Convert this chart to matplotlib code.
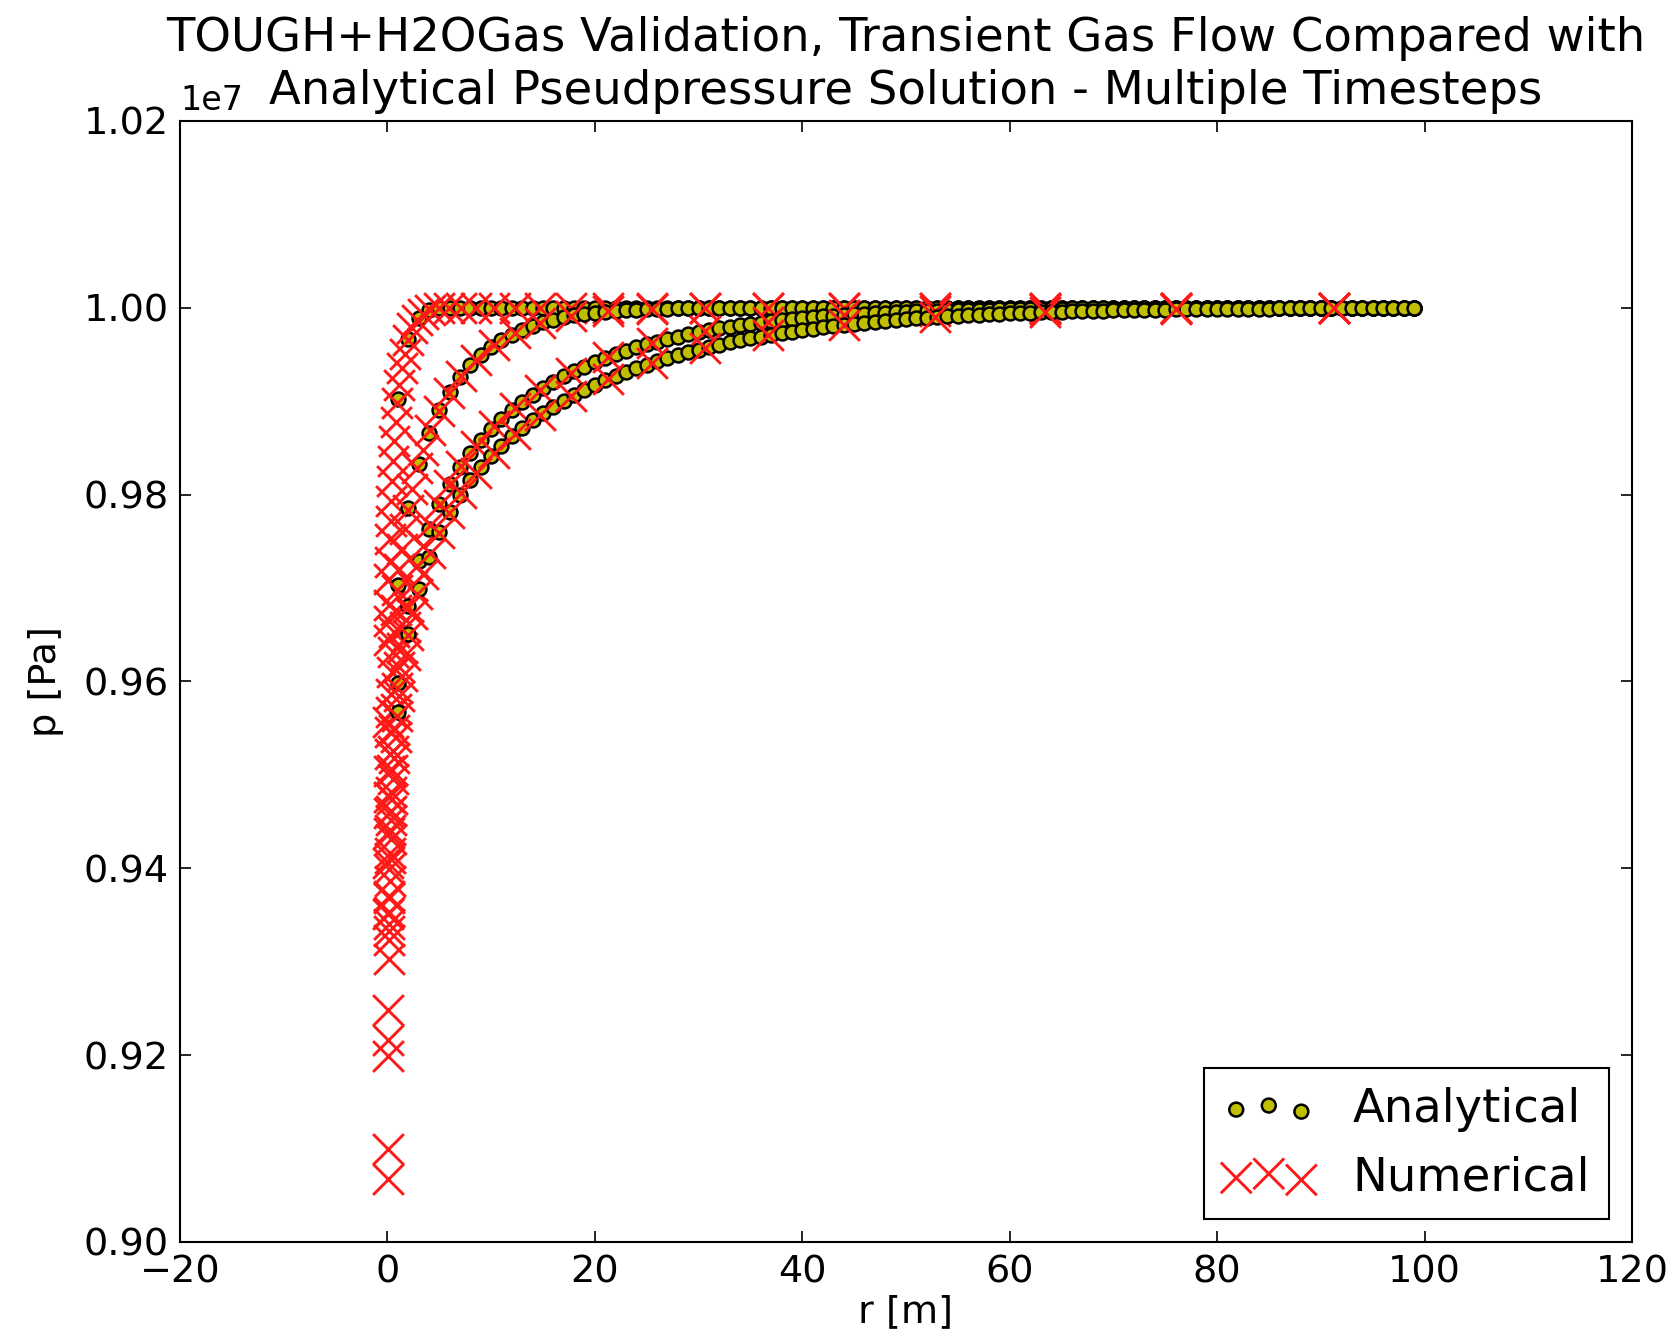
import matplotlib
matplotlib.use("Agg")
import matplotlib.pyplot as plt

plt.rcParams['font.family'] = ['DejaVu Sans']

P_SCALE = 1e7  # values below are in units of 1e7 Pa

# Analytical solution: evaluated at r = 1 ... 99 m
r_analytical = list(range(1, 100))

p_analytical_t1 = [
    0.99026, 0.99664, 0.99892, 0.99971, 0.99993, 0.99999, 1.0, 1.0, 1.0, 1.0,
    1.0, 1.0, 1.0, 1.0, 1.0, 1.0, 1.0, 1.0, 1.0, 1.0,
    1.0, 1.0, 1.0, 1.0, 1.0, 1.0, 1.0, 1.0, 1.0, 1.0,
    1.0, 1.0, 1.0, 1.0, 1.0, 1.0, 1.0, 1.0, 1.0, 1.0,
    1.0, 1.0, 1.0, 1.0, 1.0, 1.0, 1.0, 1.0, 1.0, 1.0,
    1.0, 1.0, 1.0, 1.0, 1.0, 1.0, 1.0, 1.0, 1.0, 1.0,
    1.0, 1.0, 1.0, 1.0, 1.0, 1.0, 1.0, 1.0, 1.0, 1.0,
    1.0, 1.0, 1.0, 1.0, 1.0, 1.0, 1.0, 1.0, 1.0, 1.0,
    1.0, 1.0, 1.0, 1.0, 1.0, 1.0, 1.0, 1.0, 1.0, 1.0,
    1.0, 1.0, 1.0, 1.0, 1.0, 1.0, 1.0, 1.0, 1.0,
]
p_analytical_t2 = [
    0.97031, 0.97856, 0.98330, 0.98659, 0.98906, 0.99100, 0.99256, 0.99384, 0.99490, 0.99579,
    0.99652, 0.99713, 0.99765, 0.99808, 0.99844, 0.99874, 0.99898, 0.99918, 0.99935, 0.99948,
    0.99959, 0.99968, 0.99974, 0.99980, 0.99985, 0.99988, 0.99991, 0.99993, 0.99995, 0.99996,
    0.99997, 0.99998, 0.99998, 0.99999, 0.99999, 1.0, 1.0, 1.0, 1.0, 1.0,
    1.0, 1.0, 1.0, 1.0, 1.0, 1.0, 1.0, 1.0, 1.0, 1.0,
    1.0, 1.0, 1.0, 1.0, 1.0, 1.0, 1.0, 1.0, 1.0, 1.0,
    1.0, 1.0, 1.0, 1.0, 1.0, 1.0, 1.0, 1.0, 1.0, 1.0,
    1.0, 1.0, 1.0, 1.0, 1.0, 1.0, 1.0, 1.0, 1.0, 1.0,
    1.0, 1.0, 1.0, 1.0, 1.0, 1.0, 1.0, 1.0, 1.0, 1.0,
    1.0, 1.0, 1.0, 1.0, 1.0, 1.0, 1.0, 1.0, 1.0,
]
p_analytical_t3 = [
    0.95978, 0.96809, 0.97293, 0.97636, 0.97900, 0.98114, 0.98294, 0.98448, 0.98582, 0.98701,
    0.98807, 0.98903, 0.98989, 0.99067, 0.99139, 0.99204, 0.99265, 0.99320, 0.99371, 0.99419,
    0.99463, 0.99505, 0.99542, 0.99576, 0.99607, 0.99638, 0.99666, 0.99692, 0.99716, 0.99738,
    0.99759, 0.99779, 0.99796, 0.99813, 0.99828, 0.99842, 0.99855, 0.99867, 0.99879, 0.99889,
    0.99899, 0.99908, 0.99916, 0.99923, 0.99930, 0.99936, 0.99942, 0.99947, 0.99952, 0.99957,
    0.99961, 0.99965, 0.99968, 0.99971, 0.99974, 0.99977, 0.99979, 0.99981, 0.99983, 0.99985,
    0.99987, 0.99988, 0.99989, 0.99990, 0.99991, 0.99992, 0.99993, 0.99994, 0.99994, 0.99995,
    0.99996, 0.99996, 0.99996, 0.99997, 0.99997, 0.99997, 0.99998, 0.99998, 0.99998, 0.99998,
    0.99999, 0.99999, 0.99999, 0.99999, 0.99999, 0.99999, 0.99999, 0.99999, 0.99999, 0.99999,
    1.0, 1.0, 1.0, 1.0, 1.0, 1.0, 1.0, 1.0, 1.0,
]
p_analytical_t4 = [
    0.95676, 0.96507, 0.96992, 0.97336, 0.97601, 0.97818, 0.97999, 0.98156, 0.98293, 0.98415,
    0.98524, 0.98623, 0.98713, 0.98795, 0.98871, 0.98941, 0.99006, 0.99067, 0.99123, 0.99175,
    0.99224, 0.99271, 0.99314, 0.99354, 0.99392, 0.99428, 0.99462, 0.99494, 0.99524, 0.99552,
    0.99579, 0.99604, 0.99628, 0.99650, 0.99672, 0.99692, 0.99710, 0.99728, 0.99745, 0.99761,
    0.99776, 0.99790, 0.99803, 0.99816, 0.99827, 0.99839, 0.99849, 0.99859, 0.99868, 0.99877,
    0.99885, 0.99893, 0.99900, 0.99907, 0.99914, 0.99920, 0.99925, 0.99931, 0.99935, 0.99940,
    0.99944, 0.99948, 0.99952, 0.99956, 0.99959, 0.99962, 0.99965, 0.99967, 0.99970, 0.99972,
    0.99974, 0.99976, 0.99978, 0.99979, 0.99981, 0.99982, 0.99983, 0.99985, 0.99986, 0.99987,
    0.99988, 0.99989, 0.99990, 0.99991, 0.99991, 0.99992, 0.99993, 0.99993, 0.99994, 0.99994,
    0.99995, 0.99995, 0.99996, 0.99996, 0.99997, 0.99997, 0.99997, 0.99998, 0.99998,
]

# Numerical (TOUGH+H2OGas) results at the cell centres
r_numerical = [
    0.015, 0.053, 0.11, 0.13, 0.15, 0.19, 0.22, 0.27, 0.32, 0.38,
    0.46, 0.55, 0.66, 0.80, 0.96, 1.15, 1.38, 1.65, 1.98, 2.38,
    2.86, 3.43, 4.11, 4.94, 5.93, 7.11, 8.53, 10.24, 12.29, 14.75,
    17.69, 21.23, 25.48, 30.58, 36.69, 44.03, 52.84, 63.40, 76.08, 91.30,
]
p_numerical_t1 = [
    0.9406, 0.9557, 0.9644, 0.9665, 0.9682, 0.9710, 0.9728, 0.9752, 0.9772, 0.9793,
    0.9815, 0.9836, 0.9857, 0.9878, 0.9898, 0.9917, 0.9935, 0.9951, 0.9966, 0.9978,
    0.9987, 0.99937, 0.99974, 0.99993, 0.99999, 1.0, 1.0, 1.0, 1.0, 1.0,
    1.0, 1.0, 1.0, 1.0, 1.0, 1.0, 1.0, 1.0, 1.0, 1.0,
]
p_numerical_t2 = [
    0.9199, 0.9351, 0.9438, 0.9459, 0.9476, 0.9504, 0.9522, 0.9546, 0.9567, 0.9587,
    0.9610, 0.9632, 0.9653, 0.9676, 0.9698, 0.9720, 0.9742, 0.9763, 0.9784, 0.9806,
    0.9828, 0.9848, 0.9869, 0.9889, 0.9909, 0.9927, 0.9944, 0.9960, 0.9973, 0.99835,
    0.99913, 0.99961, 0.99986, 0.99997, 1.0, 1.0, 1.0, 1.0, 1.0, 1.0,
]
p_numerical_t3 = [
    0.9100, 0.9248, 0.9333, 0.9353, 0.9370, 0.9399, 0.9416, 0.9441, 0.9461, 0.9482,
    0.9505, 0.9526, 0.9548, 0.9571, 0.9593, 0.9615, 0.9636, 0.9658, 0.9680, 0.9702,
    0.9724, 0.9745, 0.9767, 0.9789, 0.9810, 0.9831, 0.9852, 0.9873, 0.9893, 0.9912,
    0.9930, 0.99473, 0.99623, 0.99751, 0.99851, 0.99923, 0.99967, 0.99989, 0.99998, 1.0,
]
p_numerical_t4 = [
    0.9067, 0.9216, 0.9303, 0.9323, 0.9340, 0.9368, 0.9386, 0.9411, 0.9431, 0.9452,
    0.9474, 0.9496, 0.9518, 0.9541, 0.9563, 0.9584, 0.9606, 0.9628, 0.9650, 0.9672,
    0.9694, 0.9715, 0.9737, 0.9759, 0.9780, 0.9802, 0.9823, 0.9844, 0.9865, 0.9885,
    0.9905, 0.99235, 0.99410, 0.99567, 0.99706, 0.99816, 0.99899, 0.99953, 0.99983, 0.99996,
]

analytical_series = [p_analytical_t1, p_analytical_t2, p_analytical_t3, p_analytical_t4]
numerical_series = [p_numerical_t1, p_numerical_t2, p_numerical_t3, p_numerical_t4]

title_line1 = "TOUGH+H2OGas Validation, Transient Gas Flow Compared with"
title_line2 = "Analytical Pseudpressure Solution - Multiple Timesteps"
x_label = "r [m]"
y_label = "p [Pa]"
x_ticks = [-20, 0, 20, 40, 60, 80, 100, 120]
y_ticks = [0.90, 0.92, 0.94, 0.96, 0.98, 1.00, 1.02]

BASE = 27.5
LARGE = 33.5

fig = plt.figure(figsize=(16.76, 13.36), dpi=100, facecolor='white')
ax = fig.add_axes([0.1074, 0.0704, 0.8663, 0.8391])

for i, (pa, pn) in enumerate(zip(analytical_series, numerical_series)):
    ax.scatter(r_analytical, [v * P_SCALE for v in pa], s=100, c=[(0.75, 0.75, 0.0)],
               edgecolors='black', linewidths=1.8, zorder=2 + 2 * i,
               label='Analytical' if i == 0 else None)
    ax.scatter(r_numerical, [v * P_SCALE for v in pn], s=490, marker='x', c='#ff1a1a',
               linewidths=2.1, zorder=3 + 2 * i,
               label='Numerical' if i == 0 else None)

ax.set_xlim(-20, 120)
ax.set_ylim(0.90 * P_SCALE, 1.02 * P_SCALE)
ax.set_xticks(x_ticks)
ax.set_yticks([v * P_SCALE for v in y_ticks])

for sp in ax.spines.values():
    sp.set_linewidth(1.5)
ax.tick_params(direction='in', top=True, right=True, length=8, width=1.2,
               labelsize=BASE)
ax.tick_params(axis='x', pad=9)
ax.tick_params(axis='y', pad=8)
off = ax.yaxis.get_offset_text()
off.set_fontsize(24)
off.set_verticalalignment('bottom')

# two-line title: second line as axes title, first line just above it
TITLE_PAD = 12
ax.set_title(title_line2, fontsize=LARGE, y=1.0, pad=TITLE_PAD)
ax.annotate(title_line1, xy=(0.5, 1.0), xycoords='axes fraction',
            xytext=(0, TITLE_PAD + 38.5), textcoords='offset points',
            ha='center', va='baseline', fontsize=LARGE)

ax.set_xlabel(x_label, fontsize=BASE, labelpad=3)
ax.set_ylabel(y_label, fontsize=BASE, labelpad=14)

leg = ax.legend(loc='lower right', scatterpoints=3,
                scatteryoffsets=[0.375, 0.5, 0.3125], fontsize=LARGE,
                fancybox=False, framealpha=1.0, edgecolor='black',
                borderaxespad=0.5, handletextpad=0.8)
leg.get_frame().set_linewidth(1.5)

fig.savefig("out.png", dpi=100, facecolor='white')
